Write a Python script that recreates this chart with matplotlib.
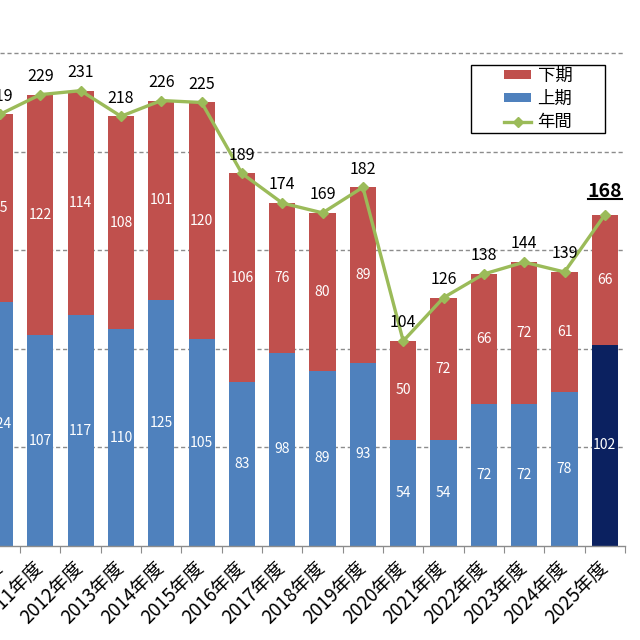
import matplotlib
matplotlib.use("Agg")
import matplotlib.pyplot as plt
from matplotlib.lines import Line2D
from matplotlib.patches import Patch, Rectangle
import numpy as np

plt.rcParams['font.family'] = ['Noto Sans CJK JP', 'DejaVu Sans']

years = ["2010年度", "2011年度", "2012年度", "2013年度", "2014年度", "2015年度",
         "2016年度", "2017年度", "2018年度", "2019年度", "2020年度", "2021年度",
         "2022年度", "2023年度", "2024年度", "2025年度"]
first_half = [124, 107, 117, 110, 125, 105, 83, 98, 89, 93, 54, 54, 72, 72, 78, 102]
second_half = [95, 122, 114, 108, 101, 120, 106, 76, 80, 89, 50, 72, 66, 72, 61, 66]
annual = [219, 229, 231, 218, 226, 225, 189, 174, 169, 182, 104, 126, 138, 144, 139, 168]

RED = "#C0504D"
BLUE = "#4F81BD"
NAVY = "#0B2160"
GREEN = "#9BBB59"

fig = plt.figure(figsize=(6.4, 6.4), dpi=100)
ax = fig.add_axes([0, 94 / 640, 625 / 640, 546 / 640])

x = np.arange(len(years))
w = 0.65
fc_first = [BLUE] * (len(years) - 1) + [NAVY]
ax.bar(x, first_half, w, color=fc_first, zorder=2)
ax.bar(x, second_half, w, bottom=first_half, color=RED, zorder=2)
ax.plot(x, annual, color=GREEN, lw=2.4, marker='D', ms=5, zorder=3)

for i in range(len(years)):
    ax.text(x[i], first_half[i] / 2, str(first_half[i]), ha='center', va='center',
            color='white', fontsize=10, zorder=4)
    ax.text(x[i], first_half[i] + second_half[i] / 2, str(second_half[i]), ha='center',
            va='center', color='white', fontsize=10, zorder=4)

last = len(years) - 1
for i in range(len(years)):
    if i == last:
        continue
    ax.annotate(str(annual[i]), (x[i], annual[i]), xytext=(0, 7), textcoords='offset points',
                ha='center', va='bottom', fontsize=11.5, color='black', zorder=5)
t = ax.annotate(str(annual[last]), (x[last], annual[last]), xytext=(0, 10),
                textcoords='offset points', ha='center', va='bottom', fontsize=14,
                fontweight='bold', color='black', zorder=5)

ax.set_xlim(0.0125, 15.5)
ax.set_ylim(0, 277)
ax.set_yticks([50, 100, 150, 200, 250])
ax.yaxis.grid(True, linestyle=(0, (3, 2)), color='#8c8c8c', lw=1, zorder=0)
ax.tick_params(axis='y', left=False, labelleft=False)
for s in ['top', 'right', 'left']:
    ax.spines[s].set_visible(False)
ax.spines['bottom'].set_color('#8c8c8c')
ax.spines['bottom'].set_linewidth(1)

ax.set_xticks(x + 0.5, minor=False)
ax.set_xticklabels([])
ax.tick_params(axis='x', which='major', length=5, color='#8c8c8c', direction='out')
ax.set_xticks(x, minor=True)
ax.set_xticklabels(years, minor=True, rotation=45, ha='right', va='center',
                   rotation_mode='anchor', fontsize=13.5)
ax.tick_params(axis='x', which='minor', length=0, pad=14)

# legend box
lx0, lx1 = 471 / 625, 605 / 625
ly0, ly1 = 1 - 133 / 546, 1 - 65 / 546
ax.add_patch(Rectangle((lx0, ly0), lx1 - lx0, ly1 - ly0, transform=ax.transAxes,
                       facecolor='white', edgecolor='black', lw=1.0, zorder=6))
handles = [Patch(facecolor=RED, label='下期'), Patch(facecolor=BLUE, label='上期'),
           Line2D([0], [0], color=GREEN, lw=2.4, marker='D', ms=5, label='年間')]
leg = ax.legend(handles=handles, loc='center', bbox_to_anchor=((lx0 + lx1) / 2, (ly0 + ly1) / 2),
                borderaxespad=0, frameon=False, fontsize=12.5,
                handlelength=1.6, handleheight=0.45, handletextpad=0.35,
                labelspacing=0.3, borderpad=0)
leg.set_zorder(7)

fig.canvas.draw()
bb = t.get_window_extent()
inv = fig.transFigure.inverted()
(x0, y0), (x1, _) = inv.transform([(bb.x0, bb.y0 + 2), (bb.x1, bb.y0 + 2)])
fig.add_artist(Line2D([x0, x1], [y0, y0], color='black', lw=1.5, transform=fig.transFigure))

fig.savefig("out.png", dpi=100)
